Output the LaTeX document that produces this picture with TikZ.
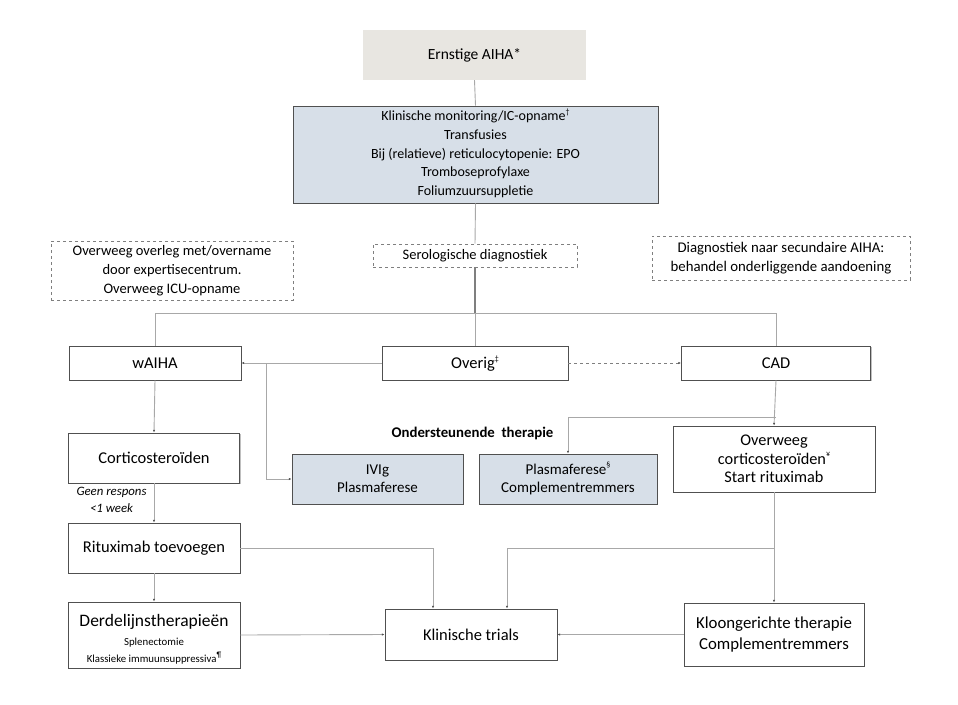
\documentclass[tikz,border=0pt]{standalone}
\usepackage{fontspec}
\setmainfont{Carlito}
\usetikzlibrary{arrows.meta,shadows}
\definecolor{boxblue}{HTML}{D7DFE8}
\definecolor{boxbeige}{HTML}{E8E6E1}
\definecolor{linegray}{HTML}{A8A8A8}
\definecolor{edgegray}{HTML}{505050}
\definecolor{dashgray}{HTML}{7F7F7F}
\newcommand{\sups}[1]{\raisebox{0.45em}[0pt][0pt]{\fontsize{8}{8}\selectfont #1}}
\tikzset{
  box/.style={draw=edgegray, line width=0.9pt, fill=white, align=center, inner sep=2pt,
    font=\fontsize{16.5}{19}\selectfont,
    drop shadow={shadow xshift=1pt, shadow yshift=-1pt, fill=black, opacity=0.25}},
  bluebox/.style={box, fill=boxblue, font=\fontsize{15}{18}\selectfont},
  dbox/.style={draw=dashgray, dashed, line width=0.8pt, align=center, inner sep=2pt,
    font=\fontsize{14.5}{19}\selectfont},
  conn/.style={draw=linegray, line width=0.9pt},
  tip/.style={conn, -{Latex[length=2.6pt,width=2.2pt,color=edgegray]}},
}
\begin{document}
\begin{tikzpicture}[x=1pt,y=-1pt]
\useasboundingbox (0,0) rectangle (958,704);
% top
\node[fill=boxbeige, minimum width=223, minimum height=50, font=\fontsize{15.5}{18}\selectfont] (ernst) at (474.5,55) {\raisebox{-2pt}{Ernstige AIHA*}};
\node[bluebox, minimum width=365, minimum height=97, font=\fontsize{14}{18.7}\selectfont] (blue) at (475.5,154.5)
  {Klinische monitoring/IC-opname\sups{†}\\Transfusies\\Bij (relatieve) reticulocytopenie: EPO\\Tromboseprofylaxe\\Foliumzuursuppletie};
\node[dbox, minimum width=204, minimum height=23, font=\fontsize{14.5}{16}\selectfont] (sero) at (475,255.5) {Serologische diagnostiek};
\node[dbox, minimum width=242, minimum height=59] (expert) at (172,270.5) {Overweeg overleg met/overname\\door expertisecentrum.\\Overweeg ICU-opname};
\node[dbox, minimum width=258, minimum height=44, font=\fontsize{14.8}{18.5}\selectfont] (sec) at (781,258) {Diagnostiek naar secundaire AIHA:\\behandel onderliggende aandoening};
% level 2
\node[box, minimum width=172, minimum height=34] (waiha) at (155,363) {wAIHA};
\node[box, minimum width=186, minimum height=34] (overig) at (475,363) {\raisebox{0pt}[\height][0pt]{Overig}\sups{‡}};
\node[box, minimum width=189, minimum height=34] (cad) at (776,363) {CAD};
% level 3
\node[box, minimum width=171, minimum height=50] (cortico) at (154,458) {Corticosteroïden};
\node[font=\fontsize{12.8}{16.5}\selectfont\itshape, align=center] (geen) at (111.5,500) {Geen respons\\<1 week};
\node[font=\fontsize{14.8}{16}\selectfont\bfseries] (onder) at (472.5,433) {Ondersteunende\ \ therapie};
\node[bluebox, minimum width=171, minimum height=50] (ivig) at (377.5,479) {IVIg\\Plasmaferese};
\node[bluebox, minimum width=178, minimum height=50] (plasma) at (568,479) {Plasmaferese\sups{§}\\Complementremmers};
\node[box, minimum width=202, minimum height=66, font=\fontsize{16.3}{18.5}\selectfont] (overweeg) at (774,459) {Overweeg\\corticosteroïden\sups{¥}\\Start rituximab};
% level 4
\node[box, minimum width=172, minimum height=50] (ritux) at (154,548) {Rituximab toevoegen};
\node[box, minimum width=172, minimum height=66, font=\fontsize{10.8}{18}\selectfont] (derdel) at (154,635)
  {\rule{0pt}{21pt}{\fontsize{17.5}{18}\selectfont Derdelijnstherapieën}\\[1pt]Splenectomie\\[-1pt]Klassieke immuunsuppressiva\sups{¶}};
\node[box, minimum width=172, minimum height=51] (klin) at (471,634.5) {Klinische trials};
\node[box, minimum width=180, minimum height=63, font=\fontsize{16.8}{21}\selectfont] (kloon) at (774,634.5) {Kloongerichte therapie\\Complementremmers};
% connectors top
\draw[conn] (ernst.south) -- (blue.north);
\draw[conn] (blue.south) -- (sero.north);
\coordinate (hub) at (475,313);
\draw[draw=dashgray, line width=1.2pt] (sero.south) -- (hub);
\draw[conn] (waiha.north) |- (hub);
\draw[conn] (hub) -- (overig.north);
\draw[conn] (hub) -| (cad.north);
% level 2 connectors
\draw[tip] (overig.west) -- (waiha.east);
\coordinate (br1) at (266,363);
\draw[tip] (br1) |- (ivig.west);
\draw[conn, dashed, draw=dashgray, -{Latex[length=2.6pt,width=2.2pt,color=edgegray]}] (overig.east) -- (cad.west);
\draw[tip] (cad.south) -- (overweeg.north);
\coordinate (cb) at (776,417);
\draw[tip] (cb) -| (plasma.north);
% wAIHA chain
\draw[tip] (waiha.south) -- (cortico.north);
\draw[tip] (cortico.south) -- (ritux.north);
\draw[tip] (ritux.south) -- (derdel.north);
\draw[tip] (ritux.east) -| ([xshift=-38pt]klin.north);
% CAD chain
\draw[tip] (overweeg.south) -- (kloon.north);
\coordinate (ob) at (774,548);
\draw[tip] (ob) -| ([xshift=36pt]klin.north);
% to trials
\draw[tip] (derdel.east) -- (klin.west);
\draw[tip] (kloon.west) -- (klin.east);
\end{tikzpicture}
\end{document}
